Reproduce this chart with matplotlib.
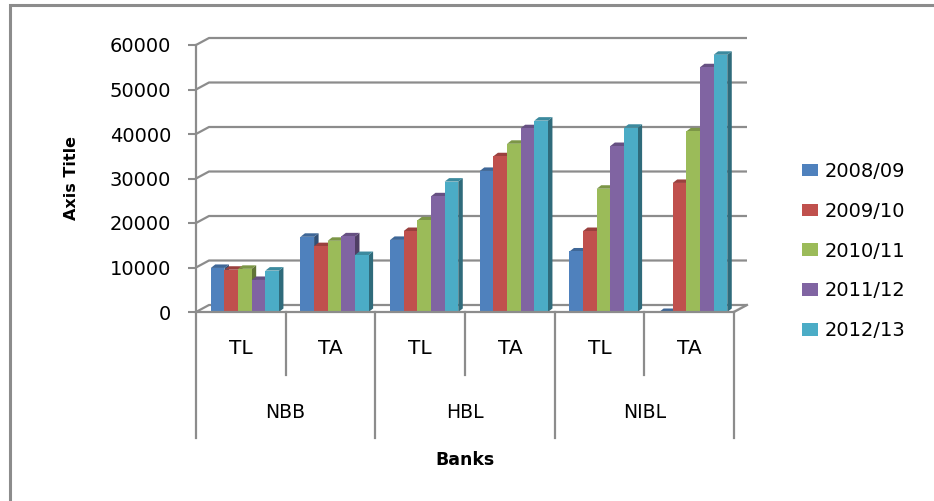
import numpy as np
import matplotlib
matplotlib.use("Agg")
import matplotlib.pyplot as plt
import matplotlib.colors as mcolors
import matplotlib.transforms as mtransforms
from matplotlib.patches import Polygon, Rectangle

# data
categories = ["TL", "TA", "TL", "TA", "TL", "TA"]
banks = ["NBB", "HBL", "NIBL"]
years = ["2008/09", "2009/10", "2010/11", "2011/12", "2012/13"]

v_0809 = [9900, 16900, 16200, 31700, 13600, 0]
v_0910 = [9500, 14800, 18200, 35000, 18200, 29000]
v_1011 = [9700, 16000, 20600, 37800, 27700, 40600]
v_1112 = [7200, 17000, 26000, 41300, 37300, 55000]
v_1213 = [9300, 12800, 29300, 43000, 41400, 57800]
series = [v_0809, v_0910, v_1011, v_1112, v_1213]

yticks = [0, 10000, 20000, 30000, 40000, 50000, 60000]
colors = ["#4F81BD", "#C0504D", "#9BBB59", "#8064A2", "#4BACC6"]
grid_col = "#8c8c8c"

W, H = 934, 501
fig = plt.figure(figsize=(W / 100, H / 100), dpi=100)
ax = fig.add_axes([196 / W, (H - 312) / H, (734 - 196) / W, (312 - 45) / H])
ax.set_xlim(-0.5, len(categories) - 0.5)
ax.set_ylim(0, 60000)
for s in ax.spines.values():
    s.set_visible(False)
ax.set_xticks([])
ax.set_yticks(yticks)
ax.set_yticklabels([str(t) for t in yticks], fontsize=14)
ax.tick_params(axis="y", length=6, width=1.5, color=grid_col, pad=12)


def off(x, y, dx, dy):
    # shift a data point by (dx, dy) pixels, return data coords
    p = ax.transData.transform((x, y)) + np.array([dx, dy])
    return ax.transData.inverted().transform(p)


# back wall gridlines (3D depth offset)
DX, DY = 13, 7
x0, x1 = ax.get_xlim()
for t in yticks:
    a = off(x0, t, DX, DY)
    b = off(x1, t, DX, DY)
    ax.plot([x0, a[0], b[0]], [t, a[1], b[1]], color=grid_col, lw=1.6,
            clip_on=False, zorder=1, solid_capstyle="butt")
# floor right edge
c = off(x1, 0, DX, DY)
ax.plot([x1, c[0]], [0, c[1]], color=grid_col, lw=1.6, clip_on=False, zorder=1)
ax.fill([x1 - 0.02, x1, c[0], c[0] - 0.02], [0, 0, c[1], c[1]],
        color="#d9d9d9", zorder=0.9, clip_on=False)

# front axes lines
ax.plot([x0, x0], [0, 60000], color=grid_col, lw=1.6, clip_on=False, zorder=6)
ax.plot([x0, x1], [0, 0], color=grid_col, lw=1.6, clip_on=False, zorder=6)

# 3D bars
n = len(series)
bw = 0.152
shift = 0.045
bdx, bdy = 4.5, 3.5
x = np.arange(len(categories))
handles = []
for i, vals in enumerate(series):
    col = np.array(mcolors.to_rgb(colors[i]))
    z = 3 + i * 0.1
    xs = x + shift + (i - (n - 1) / 2) * bw
    for xc, v in zip(xs, vals):
        l, r = xc - bw / 2, xc + bw / 2
        p1 = off(r, 0, bdx, bdy)
        p2 = off(r, v, bdx, bdy)
        p3 = off(l, v, bdx, bdy)
        ax.add_patch(Polygon([(r, 0), p1, p2, (r, v)], closed=True,
                             facecolor=col * 0.62, edgecolor="none", zorder=z))
        ax.add_patch(Polygon([(l, v), p3, p2, (r, v)], closed=True,
                             facecolor=col * 0.8, edgecolor="none", zorder=z))
    bars = ax.bar(xs, vals, width=bw, color=colors[i], zorder=z + 0.05,
                  label=years[i], linewidth=0)
    handles.append(bars)

# category axis labels and separators
tr = mtransforms.blended_transform_factory(ax.transData, ax.transAxes)
px = 1 / (312 - 45)
for k, lab in enumerate(categories):
    ax.text(k, -(349 - 312) * px, lab, transform=tr, ha="center", va="center",
            fontsize=14.5)
for k in range(len(categories) + 1):
    xb = k - 0.5
    depth = 438 if k % 2 == 0 else 375
    ax.plot([xb, xb], [0, -(depth - 312) * px], transform=tr, color=grid_col,
            lw=1.6, clip_on=False)
for g, lab in enumerate(banks):
    ax.text(2 * g + 0.5, -(413 - 312) * px, lab, transform=tr, ha="center",
            va="center", fontsize=13.5)

fig.text(465 / W, 1 - 460 / H, "Banks", ha="center", va="center",
         fontsize=12.5, fontweight="bold")
fig.text(72 / W, 1 - 178 / H, "Axis Title", ha="center", va="center",
         rotation=90, fontsize=11.5, fontweight="bold")

fig.legend(handles=handles, labels=years, loc="upper left",
           bbox_to_anchor=(802 / W, 1 - 162 / H), frameon=False, fontsize=14,
           handlelength=0.82, handleheight=0.62, handletextpad=0.35,
           labelspacing=1.07, borderpad=0, borderaxespad=0)

# outer chart frame (cropped at right and bottom)
fig.patches.append(Rectangle((10 / W, -0.05), 1.2, 1 - 5 / H + 0.05,
                             transform=fig.transFigure, fill=False,
                             edgecolor="#8c8c8c", lw=2.2))

fig.savefig("out.png", dpi=100)
